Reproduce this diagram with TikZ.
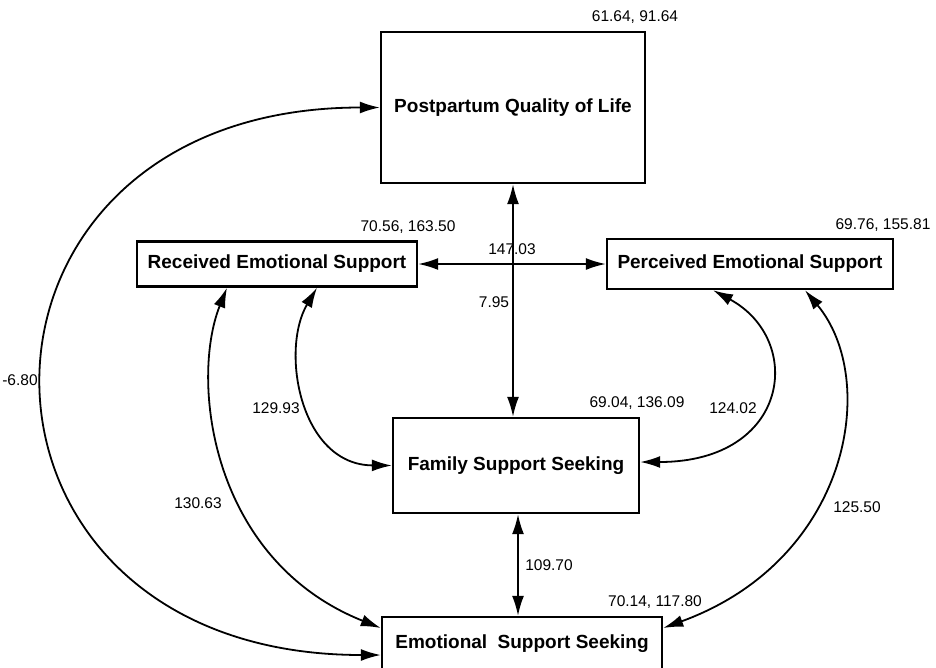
\documentclass[tikz,border=0pt]{standalone}
\usepackage{fontspec}
\setmainfont{Liberation Sans}
\usetikzlibrary{arrows.meta}
\begin{document}
\begin{tikzpicture}[x=1pt,y=-1pt,
  box/.style={draw, line width=2.4pt, inner sep=0pt, font=\fontsize{19}{23}\selectfont\bfseries},
  lbl/.style={font=\fontsize{15.5}{18}\selectfont, inner sep=0pt},
  conn/.style={line width=1.8pt, {Latex[length=20pt,width=12pt]}-{Latex[length=20pt,width=12pt]}}]
\useasboundingbox (0,0) rectangle (936,667);
\node[box, minimum width=264pt, minimum height=151pt] (pql) at (513,107.5) {Postpartum Quality of Life};
\node[box, minimum width=280pt, minimum height=45pt] (res) at (277,264) {Received Emotional Support};
\node[box, minimum width=286pt, minimum height=50pt] (pes) at (750,264) {Perceived Emotional Support};
\node[box, minimum width=246pt, minimum height=95pt] (fss) at (516,465.5) {Family Support Seeking};
\node[box, minimum width=280pt, minimum height=53pt] (ess) at (522,643.5) {Emotional\hspace{0.55em}Support Seeking};

\node[lbl] (l1) at (635,17) {61.64, 91.64};
\node[lbl] (l2) at (408,227) {70.56, 163.50};
\node[lbl] (l3) at (883,225) {69.76, 155.81};
\node[lbl] (l4) at (637,403) {69.04, 136.09};
\node[lbl] (l5) at (655,602) {70.14, 117.80};

\draw[conn] (res.east) -- (pes.west);
\draw[conn] (pql.south) -- (pql.south |- fss.north);
\draw[conn] ([xshift=2pt]fss.south) -- ([xshift=2pt]fss.south |- ess.north);

\draw[conn] ([xshift=40pt]res.south) .. controls (280,350) and (300,465) .. (fss.west);
\draw[conn] ([xshift=-37pt]pes.south) .. controls (805,340) and (790,462) .. ([yshift=3.5pt]fss.east);
\draw[conn] ([xshift=-50pt]res.south) .. controls (190,380) and (210,560) .. ([yshift=15.5pt]ess.west);
\draw[conn] ([xshift=55pt]pes.south) .. controls (880,380) and (850,560) .. ([yshift=15.5pt]ess.east);
\draw[conn] ([yshift=-11.5pt]ess.west) .. controls (-68,655) and (-68,107.5) .. (pql.west);

\node[lbl] (v1) at (512,249) {147.03};
\node[lbl] (v2) at (494,302) {7.95};
\node[lbl] (v3) at (20,380) {-6.80};
\node[lbl] (v4) at (276,408) {129.93};
\node[lbl] (v5) at (733,408) {124.02};
\node[lbl] (v6) at (198,503) {130.63};
\node[lbl] (v7) at (857,507) {125.50};
\node[lbl] (v8) at (549,565) {109.70};
\end{tikzpicture}
\end{document}
